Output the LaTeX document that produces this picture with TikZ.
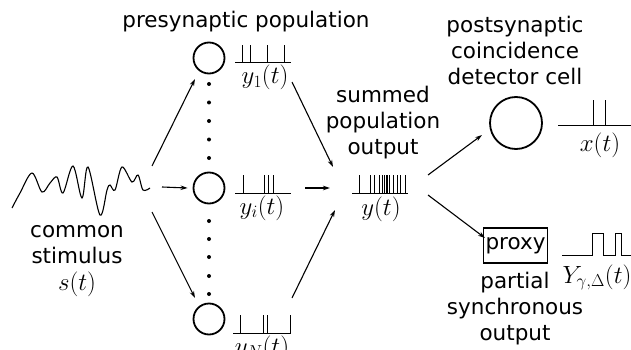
\documentclass[tikz,border=0pt]{standalone}
\usepackage[no-math]{fontspec}
\setmainfont{DejaVu Sans}
\usetikzlibrary{arrows.meta}
\begin{document}
\begin{tikzpicture}[x=1pt,y=-1pt,
  txt/.style={font=\fontsize{21.5}{26}\selectfont, inner sep=0pt, align=center},
  lab/.style={font=\fontsize{25}{28}\selectfont, inner sep=0pt},
  neuron/.style={circle, draw, line width=1.8pt, minimum size=31pt, inner sep=0pt},
  arr/.style={-{Stealth[length=7pt,width=4.5pt]}, line width=1.1pt},
  spk/.style={line width=0.9pt},
  dot/.style={circle, fill, inner sep=0pt, minimum size=4pt}]
\useasboundingbox (0,0) rectangle (631,350);

% titles (base anchor = baseline of last line)
\node[txt, anchor=base] (pre) at (246,28) {presynaptic population};
\node[txt, anchor=base] (post) at (515,85) {postsynaptic\\coincidence\\detector cell};
\node[txt, anchor=base] (sumt) at (383,154) {summed\\population\\output};
\node[txt, anchor=base] (stim) at (77,263) {common\\stimulus};
\node[lab, anchor=base] (stims) at (77,290) {$s(t)$};
\node[txt, anchor=base] (part) at (515,340) {partial\\synchronous\\output};

% stimulus wave
\draw[line width=1.1pt] plot[smooth, tension=0.55] coordinates {
 (12,208) (20,193) (32,173) (42,192) (50,183) (57,177) (63,193) (73,166)
 (82,198) (88,167) (100,215) (107,190) (110,185) (115,190) (122,167)
 (132,182) (138,175) (143,190) (150,188)};
\coordinate (s1) at (152,166);
\coordinate (s2) at (162,187);
\coordinate (s3) at (152,212);

% presynaptic neurons
\node[neuron] (n1) at (209,58) {};
\node[neuron] (ni) at (209,188) {};
\node[neuron] (nN) at (209,319) {};
\foreach \y [count=\k] in {84,102.5,121,139.5,158} \node[dot] (du\k) at (209,\y) {};
\foreach \y [count=\k] in {221,239,257,276,294} \node[dot] (dl\k) at (209,\y) {};

% spike trains
\draw[spk] (235,62) -- (291,62);
\foreach \x in {242,250,267,284} \draw[spk] (\x,62) -- (\x,45);
\draw[spk] (235,193) -- (291,193);
\foreach \x in {243,264,268,273} \draw[spk] (\x,193) -- (\x,175);
\draw[spk] (233,333) -- (291,333);
\foreach \x in {240,263,267,290} \draw[spk] (\x,333) -- (\x,315);
\draw[spk] (352,193) -- (408,193);
\foreach \x in {359,370,374,379,382.5,384.5,386,387.5,389,393,397,400,405} \draw[spk] (\x,193) -- (\x,175);
\draw[spk] (558,125) -- (640,125);
\foreach \x in {593,605} \draw[spk] (\x,125) -- (\x,100);
\draw[spk] (562,255) -- (592,255) -- (592,233) -- (603,233) -- (603,255) -- (615,255) -- (615,233) -- (621,233) -- (621,255) -- (640,255);

% labels
\node[lab, anchor=base] (y1) at (265,84) {$y_1(t)$};
\node[lab, anchor=base] (yi) at (262,214) {$y_i(t)$};
\node[lab, anchor=base] (yN) at (262,354) {$y_N(t)$};
\node[lab, anchor=base] (yy) at (381,215) {$y(t)$};
\node[lab, anchor=base] (xx) at (600,151) {$x(t)$};
\node[lab, anchor=base] (YY) at (597,283) {$Y_{\gamma,\Delta}(t)$};

% post cell and proxy
\node[neuron] (pc) at (516,123) [minimum size=52pt] {};
\node[txt, draw, line width=1.2pt, inner xsep=2pt, minimum height=35pt] (proxy) at (515.5,245.5) {proxy};

% arrows
\coordinate (t1) at (195,79);
\coordinate (t3) at (195,298);
\draw[arr] (s1) -- (t1);
\draw[arr] (s2) -- ([xshift=-5pt]ni.west);
\draw[arr] (s3) -- (t3);

\coordinate (a1) at (292,82);
\coordinate (a2) at (305,188);
\coordinate (a3) at (292,298);
\coordinate (b1) at (333,167);
\coordinate (b2) at (330,188);
\coordinate (b3) at (335,210);
\draw[arr] (a1) -- (b1);
\draw[arr] (a2) -- (b2);
\draw[arr] (a3) -- (b3);

\coordinate (c1) at (428,175);
\coordinate (c2) at (428,195);
\coordinate (d1) at (482,135);
\coordinate (d2) at (485,238);
\draw[arr] (c1) -- (d1);
\draw[arr] (c2) -- (d2);
\end{tikzpicture}
\end{document}
